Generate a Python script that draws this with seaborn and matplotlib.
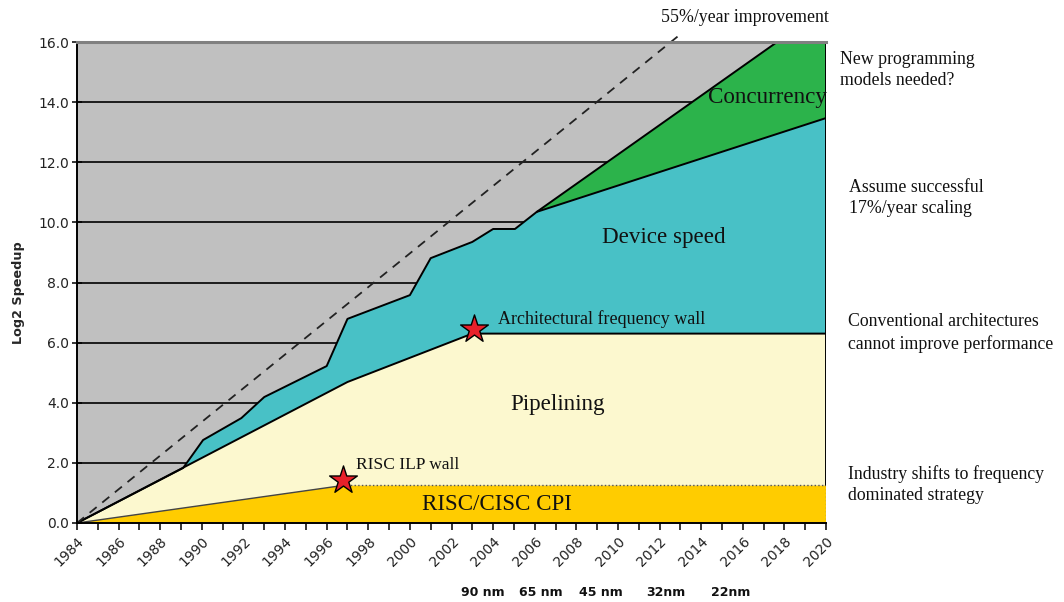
import numpy as np
import pandas as pd
import matplotlib
matplotlib.use("Agg")
import matplotlib.pyplot as plt
import matplotlib.transforms as mtransforms
import seaborn as sns

# ---------------- data ----------------
cpi_years = [1984, 1996.8, 2020]
cpi_vals = [0.0, 1.25, 1.25]

pipe_years = [1984, 1997.0, 2003.0, 2020]
pipe_vals = [0.0, 4.69, 6.30, 6.30]

dev_years = [1984, 1989.1, 1990.06, 1991.9, 1993.0, 1996.0, 1997.0, 2000.0,
             2001.0, 2003.0, 2004.0, 2005.05, 2006.1, 2020]
dev_vals = [0.0, 1.83, 2.76, 3.49, 4.19, 5.22, 6.79, 7.58,
            8.81, 9.35, 9.78, 9.78, 10.35, 13.47]

conc_years = [2006.1, 2017.65, 2020]
conc_vals = [10.35, 16.0, 16.0]

trend_years = [1984, 2012.9]
trend_vals = [0.0, 16.2]

star_years = [1996.8, 2003.1]
star_vals = [1.43, 6.45]

node_years = [2003.5, 2006.3, 2009.2, 2012.3, 2015.4]
node_labels = ["90 nm", "65 nm", "45 nm", "32nm", "22nm"]

y_ticks = [0, 2, 4, 6, 8, 10, 12, 14, 16]
x_major = list(range(1984, 2021, 2))

# ---------------- style ----------------
sns.set_theme(style="white")
plt.rcParams['font.family'] = ['DejaVu Sans']
SERIF = ['Liberation Serif', 'DejaVu Serif']

C_GRAY = '#C0C0C0'
C_GOLD = '#FFCC00'
C_CREAM = '#FCF8CF'
C_CYAN = '#48C1C6'
C_GREEN = '#2CB34B'

fig = plt.figure(figsize=(10.64, 6.02), dpi=100)
ax = fig.add_axes([77 / 1064, 1 - 523 / 602, (826 - 77) / 1064, (523 - 42) / 602])
ax.set_facecolor(C_GRAY)
ax.set_xlim(1984, 2020)
ax.set_ylim(0, 16)

# horizontal grid lines (behind areas)
for yv in y_ticks[1:-1]:
    ax.axhline(yv, color='black', lw=1.2, zorder=1)


def poly(ax, xu, yu, xl, yl, color):
    xs = np.r_[np.array(xu), np.array(xl)[::-1]]
    ys = np.r_[np.array(yu), np.array(yl)[::-1]]
    ax.fill(xs, ys, color=color, lw=0, zorder=2)


poly(ax, cpi_years, cpi_vals, [1984, 2020], [0, 0], C_GOLD)
poly(ax, pipe_years, pipe_vals, cpi_years, cpi_vals, C_CREAM)
poly(ax, dev_years, dev_vals, pipe_years, pipe_vals, C_CYAN)
conc_lo_x = [x for x in dev_years if x >= 2006.1]
conc_lo_y = [y for x, y in zip(dev_years, dev_vals) if x >= 2006.1]
poly(ax, conc_years, conc_vals, conc_lo_x, conc_lo_y, C_GREEN)


# boundary lines via seaborn
def line(xs, ys, **kw):
    df = pd.DataFrame({"x": xs, "y": ys})
    sns.lineplot(data=df, x="x", y="y", ax=ax, sort=False, estimator=None, legend=False, **kw)


line(cpi_years[:2], cpi_vals[:2], color='#444444', lw=1.0, zorder=3)
line(cpi_years[1:], cpi_vals[1:], color='#555555', lw=1.0, ls=':', zorder=3)
line(pipe_years, pipe_vals, color='black', lw=1.4, zorder=3)
line(dev_years, dev_vals, color='black', lw=1.4, zorder=3)
line(conc_years, conc_vals, color='black', lw=1.4, zorder=3)
line([2020, 2020], [1.25, 16], color='black', lw=1.4, zorder=3)
line([2020, 2020], [0, 1.25], color='#777777', lw=1.0, ls=':', zorder=3)

# 55%/year dashed trend
dfT = pd.DataFrame({"x": trend_years, "y": trend_vals})
sns.lineplot(data=dfT, x="x", y="y", ax=ax, color='#222222', lw=1.3,
             estimator=None, legend=False, zorder=4)
ax.lines[-1].set_linestyle((0, (5, 4)))
ax.lines[-1].set_clip_on(False)

# stars
sns.scatterplot(x=star_years, y=star_vals, ax=ax, marker='*', s=440,
                color='#E8202A', edgecolor='black', linewidth=1.0, zorder=6,
                legend=False, clip_on=False)

# spines / ticks
ax.spines['right'].set_visible(False)
ax.spines['top'].set_color('#808080')
ax.spines['top'].set_linewidth(2.2)
ax.spines['left'].set_color('black')
ax.spines['left'].set_linewidth(1.4)
ax.spines['bottom'].set_color('black')
ax.spines['bottom'].set_linewidth(1.4)
for s in ax.spines.values():
    s.set_zorder(5)

ax.set_yticks(y_ticks)
ax.set_yticklabels([f"{v:.1f}" for v in y_ticks], fontsize=10, color='#222222')
ax.set_xticks(x_major)
ax.set_xticks(list(range(1985, 2021, 2)), minor=True)
ax.set_xticklabels([str(v) for v in x_major], rotation=45, ha='right',
                   rotation_mode='anchor', fontsize=10, color='#222222')
offset = mtransforms.ScaledTranslation(-8 / 100, -2 / 100, fig.dpi_scale_trans)
for lab in ax.get_xticklabels():
    lab.set_transform(lab.get_transform() + offset)
ax.tick_params(axis='y', which='major', direction='inout', length=7, width=1.3,
               left=True, pad=2)
ax.tick_params(axis='x', which='both', direction='out', length=5, width=1.3,
               bottom=True, pad=3)
ax.set_xlabel("")
ax.set_ylabel("Log2 Speedup", fontsize=9.2, fontweight='bold')
ax.yaxis.set_label_coords(-(77 - 25) / 749, (523 - 293) / 481)

# in-plot labels
TXT = '#111111'
ax.text(2017.17, 14.17, "Concurrency", family=SERIF, fontsize=16.6, ha='center', va='center', color=TXT, zorder=7)
ax.text(2012.2, 9.51, "Device speed", family=SERIF, fontsize=16.6, ha='center', va='center', color=TXT, zorder=7)
ax.text(2007.1, 3.93, "Pipelining", family=SERIF, fontsize=16.6, ha='center', va='center', color=TXT, zorder=7)
ax.text(2004.2, 0.6, "RISC/CISC CPI", family=SERIF, fontsize=16.6, ha='center', va='center', color=TXT, zorder=7)
ax.text(2004.24, 6.79, "Architectural frequency wall", family=SERIF, fontsize=13, ha='left', va='center', color=TXT, zorder=7)
ax.text(1997.4, 1.93, "RISC ILP wall", family=SERIF, fontsize=12.5, ha='left', va='center', color=TXT, zorder=7)

# outside annotations
fig.text(745 / 1064, 1 - 18 / 602, "55%/year improvement", family=SERIF, fontsize=12.8,
         ha='center', va='center', color=TXT)
notes = [(840, 70, "New programming\nmodels needed?"),
         (849, 198, "Assume successful\n17%/year scaling"),
         (848, 333, "Conventional architectures\ncannot improve performance"),
         (848, 485, "Industry shifts to frequency\ndominated strategy")]
for px, py, t in notes:
    fig.text(px / 1064, 1 - py / 602, t, family=SERIF, fontsize=12.8, ha='left', va='center',
             color=TXT, linespacing=1.3)

trans = mtransforms.blended_transform_factory(ax.transData, fig.transFigure)
for yr, lab in zip(node_years, node_labels):
    ax.text(yr, 1 - 593 / 602, lab, transform=trans, fontsize=9, fontweight='bold',
            ha='center', va='center', color=TXT)

fig.savefig("out.png", dpi=100)
